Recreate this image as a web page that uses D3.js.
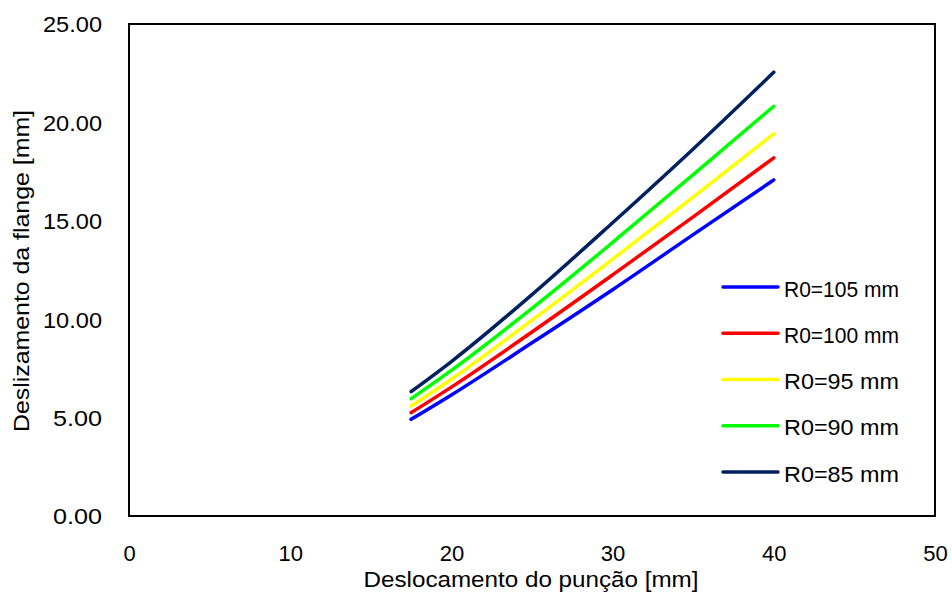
<!DOCTYPE html>
<html>
<head>
<meta charset="utf-8">
<script src="https://cdn.jsdelivr.net/npm/d3@7"></script>
<style>
  html, body { margin: 0; padding: 0; background: #fff; }
  svg { display: block; }
  text { font-family: "Liberation Sans", Arial, sans-serif; fill: #000; }
</style>
</head>
<body>
<svg id="chart" width="952" height="592"></svg>
<script>
// Punch displacement [mm] at which each curve is sampled
const displacement = [17.5, 20, 25, 30, 35, 40];

// Flange draw-in [mm] for each initial blank radius R0
const slipR105 = [4.91, 6.15, 8.80, 11.50, 14.30, 17.08];
const slipR100 = [5.25, 6.55, 9.35, 12.25, 15.20, 18.20];
const slipR95  = [5.59, 6.95, 9.95, 13.05, 16.20, 19.42];
const slipR90  = [5.96, 7.40, 10.55, 13.90, 17.35, 20.82];
const slipR85  = [6.32, 7.85, 11.25, 14.90, 18.65, 22.55];

const seriesNames  = ["R0=105 mm", "R0=100 mm", "R0=95 mm", "R0=90 mm", "R0=85 mm"];
const seriesColors = ["#0000FF", "#FF0000", "#FFFF00", "#00FF00", "#002060"];

const xTicks = [0, 10, 20, 30, 40, 50];
const yTicks = [0, 5, 10, 15, 20, 25];

const xTitle = "Deslocamento do punção [mm]";
const yTitle = "Deslizamento da flange [mm]";

const seriesValues = [slipR105, slipR100, slipR95, slipR90, slipR85];
const series = seriesNames.map((name, i) => ({
  name,
  color: seriesColors[i],
  points: displacement.map((d, j) => ({ x: d, y: seriesValues[i][j] }))
}));

const svg = d3.select("#chart");
const plot = { left: 129, top: 24, right: 935, bottom: 516 };
const font = "'Liberation Sans', Arial, sans-serif";

const x = d3.scaleLinear().domain([0, 50]).range([plot.left, plot.right]);
const y = d3.scaleLinear().domain([0, 25]).range([plot.bottom, plot.top]);

// Plot frame
svg.append("rect")
  .attr("x", plot.left).attr("y", plot.top)
  .attr("width", plot.right - plot.left).attr("height", plot.bottom - plot.top)
  .attr("fill", "none").attr("stroke", "#000").attr("stroke-width", 2);

// Axes: labels only, no tick marks
const xAxis = svg.append("g")
  .attr("transform", `translate(0,${plot.bottom})`)
  .call(d3.axisBottom(x).tickValues(xTicks).tickFormat(d3.format("d")).tickSize(0).tickPadding(0));
xAxis.select(".domain").remove();
xAxis.selectAll("text")
  .attr("y", 44.5).attr("dy", null)
  .style("font-size", "22px").style("font-family", font).attr("fill", "#000");

const yAxis = svg.append("g")
  .attr("transform", `translate(${plot.left},0)`)
  .call(d3.axisLeft(y).tickValues(yTicks).tickFormat(d3.format(".2f")).tickSize(0).tickPadding(0));
yAxis.select(".domain").remove();
yAxis.selectAll("text")
  .attr("x", -27).attr("dy", "0.36em")
  .attr("textLength", 59)
  .attr("lengthAdjust", "spacingAndGlyphs")
  .style("font-size", "22px").style("font-family", font).attr("fill", "#000");
yAxis.selectAll("text").filter(d => d < 10).attr("textLength", 49);

// Curves
const line = d3.line()
  .x(d => x(d.x))
  .y(d => y(d.y))
  .curve(d3.curveMonotoneX);

svg.append("g").selectAll("path")
  .data(series)
  .join("path")
  .attr("d", d => line(d.points))
  .attr("fill", "none")
  .attr("stroke", d => d.color)
  .attr("stroke-width", 3.5)
  .attr("stroke-linecap", "round")
  .attr("stroke-linejoin", "round");

// Axis titles
svg.append("text")
  .attr("x", (plot.left + plot.right) / 2 - 1)
  .attr("y", 587)
  .attr("text-anchor", "middle")
  .attr("textLength", 335)
  .attr("lengthAdjust", "spacingAndGlyphs")
  .style("font-size", "22px")
  .text(xTitle);

svg.append("text")
  .attr("transform", `translate(29,${(plot.top + plot.bottom) / 2 + 1}) rotate(-90)`)
  .attr("text-anchor", "middle")
  .attr("textLength", 322)
  .attr("lengthAdjust", "spacingAndGlyphs")
  .style("font-size", "22px")
  .text(yTitle);

// Legend
const legend = svg.append("g").attr("transform", "translate(723,287)");
const rowGap = 46.25;
const legendRows = legend.selectAll("g")
  .data(series)
  .join("g")
  .attr("transform", (d, i) => `translate(0,${i * rowGap})`);
legendRows.append("line")
  .attr("x1", 0).attr("x2", 55)
  .attr("stroke", d => d.color)
  .attr("stroke-width", 3.5)
  .attr("stroke-linecap", "round");
legendRows.append("text")
  .attr("x", 61)
  .attr("y", 9.5)
  .attr("textLength", d => d.name.length > 9 ? 128 : 115)
  .attr("lengthAdjust", "spacingAndGlyphs")
  .style("font-size", "22px")
  .text(d => d.name);
</script>
</body>
</html>
